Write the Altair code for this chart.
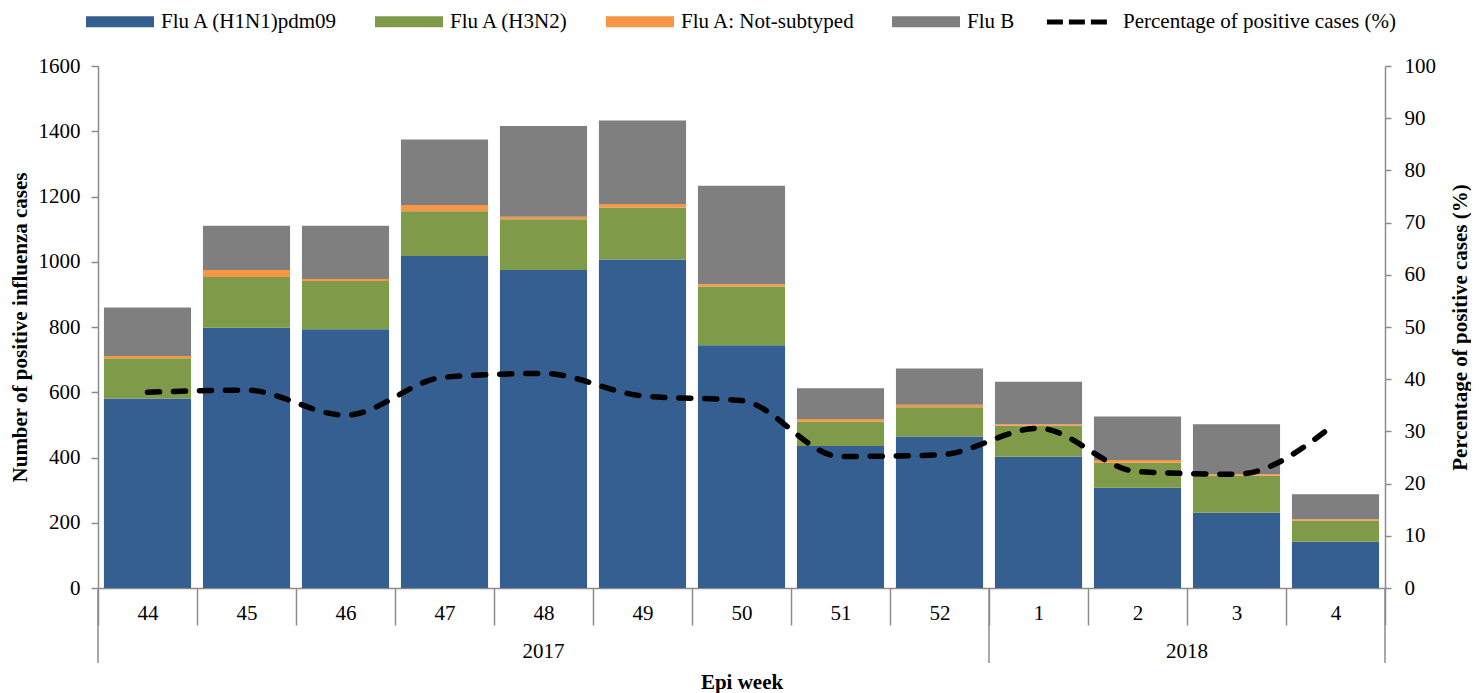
import altair as alt
import pandas as pd

weeks = ["44", "45", "46", "47", "48", "49", "50", "51", "52", "1", "2", "3", "4"]
series = ["Flu A (H1N1)pdm09", "Flu A (H3N2)", "Flu A: Not-subtyped", "Flu B"]
colors = ["#365F91", "#7F9A48", "#F79646", "#7F7F7F"]

h1n1 = [581, 798, 793, 1018, 975, 1007, 744, 435, 464, 402, 307, 231, 142]
h3n2 = [123, 155, 148, 137, 155, 159, 180, 75, 90, 95, 77, 113, 64]
not_subtyped = [7, 22, 6, 19, 8, 11, 7, 8, 8, 5, 8, 5, 5]
flu_b = [149, 135, 163, 201, 278, 256, 302, 94, 111, 130, 134, 153, 76]
pct_positive = [37.5, 37.9, 33.1, 40.4, 41.1, 36.8, 35.9, 25.2, 25.5, 30.6, 22.3, 21.8, 31.5]

year_labels = ["2017", "2018"]
year_label_week = ["48", "3"]       # band where each year label sits
year_label_bandpos = [0.5, 0.0]
year_start_weeks = ["44", "1"]
year_end_weeks = ["4"]

line_name = "Percentage of positive cases (%)"
FONT = "Liberation Serif"
GREY = "#8C8C8C"
FS = 21

rows = []
for vals, name, o in zip([h1n1, h3n2, not_subtyped, flu_b], series, range(4)):
    for w, v in zip(weeks, vals):
        rows.append({"week": w, "type": name, "value": v, "ord": o})
bars_df = pd.DataFrame(rows)
line_df = pd.DataFrame({"week": weeks, "pct": pct_positive, "s": [line_name] * len(weeks)})

xscale = alt.Scale(domain=weeks, paddingInner=0, paddingOuter=0)
xaxis = alt.Axis(
    title="Epi week", titleFont=FONT, titleFontSize=21, titleFontWeight="bold",
    titleY=100, titleBaseline="alphabetic",
    labelAngle=0, labelFont=FONT, labelFontSize=FS, labelColor="black",
    tickBand="extent", tickSize=37, tickColor=GREY, tickWidth=1.5,
    labelPadding=-23, domainColor=GREY, domainWidth=1.5,
)

bars = alt.Chart(bars_df).mark_bar(width=alt.RelativeBandSize(0.88)).encode(
    x=alt.X("week:N", sort=weeks, scale=xscale, axis=xaxis),
    y=alt.Y("value:Q", stack="zero",
            scale=alt.Scale(domain=[0, 1600], nice=False),
            axis=alt.Axis(values=list(range(0, 1601, 200)), format="d",
                          title="Number of positive influenza  cases",
                          titleFont=FONT, titleFontSize=21, titleFontWeight="bold",
                          titleX=-78, titleY=261, titleBaseline="middle", titleAngle=270,
                          labelFont=FONT, labelFontSize=FS, labelColor="black",
                          tickSize=7, tickColor=GREY, tickWidth=1.5, labelPadding=11,
                          domainColor=GREY, domainWidth=1.5, grid=False)),
    color=alt.Color("type:N", scale=alt.Scale(domain=series, range=colors),
                    legend=alt.Legend(orient="none", legendX=11.5, legendY=-55,
                                      direction="horizontal", title=None,
                                      symbolType="M-4,-0.64H4V0.64H-4Z", symbolSize=289,
                                      symbolStrokeWidth=0, symbolOpacity=1,
                                      labelFont=FONT, labelFontSize=FS, labelColor="black",
                                      labelOffset=30.5, columnPadding=36, labelLimit=400)),
    order=alt.Order("ord:Q", sort="ascending"),
)

line = alt.Chart(line_df).mark_line(
    color="black", strokeWidth=5.5, strokeDash=[12, 14], strokeCap="round",
    interpolate="monotone"
).encode(
    x=alt.X("week:N", sort=weeks, scale=xscale, axis=xaxis),
    y=alt.Y("pct:Q", scale=alt.Scale(domain=[0, 100], nice=False),
            axis=alt.Axis(orient="right", values=list(range(0, 101, 10)),
                          title=line_name,
                          titleFont=FONT, titleFontSize=21, titleFontWeight="bold",
                          titleX=75, titleY=261, titleBaseline="middle", titleAngle=270,
                          labelFont=FONT, labelFontSize=FS, labelColor="black",
                          tickSize=6, tickColor=GREY, tickWidth=1.5, labelPadding=13,
                          domainColor=GREY, domainWidth=1.5, grid=False)),
    color=alt.Color("s:N", scale=alt.Scale(domain=[line_name], range=["black"]),
                    legend=alt.Legend(orient="none", legendX=968.5, legendY=-55, title=None,
                                      symbolType="M-3.6,0H3.6", symbolSize=289,
                                      symbolStrokeWidth=5, symbolDash=[16, 6],
                                      symbolStrokeColor="black", symbolFillColor="transparent",
                                      labelFont=FONT, labelFontSize=FS, labelColor="black",
                                      labelOffset=34.5, labelLimit=400)),
)

start_df = pd.DataFrame({"week": year_start_weeks})
end_df = pd.DataFrame({"week": year_end_weeks})
rule_start = alt.Chart(start_df).mark_rule(color=GREY, strokeWidth=1.5, clip=False).encode(
    x=alt.X("week:N", sort=weeks, scale=xscale, axis=xaxis, bandPosition=0),
    y=alt.value(522), y2=alt.value(597),
)
rule_end = alt.Chart(end_df).mark_rule(color=GREY, strokeWidth=1.5, clip=False).encode(
    x=alt.X("week:N", sort=weeks, scale=xscale, axis=xaxis, bandPosition=1),
    y=alt.value(522), y2=alt.value(597),
)

text_layers = []
for lab, wk, bp in zip(year_labels, year_label_week, year_label_bandpos):
    tdf = pd.DataFrame({"week": [wk], "label": [lab]})
    text_layers.append(
        alt.Chart(tdf).mark_text(font=FONT, fontSize=FS, color="black",
                                 baseline="alphabetic", align="center", clip=False).encode(
            x=alt.X("week:N", sort=weeks, scale=xscale, axis=xaxis, bandPosition=bp),
            y=alt.value(592),
            text="label:N",
        )
    )

bar_side = alt.layer(bars, rule_start, rule_end, *text_layers)
chart = alt.layer(bar_side, line).resolve_scale(
    y="independent", color="independent"
).resolve_legend(color="independent").properties(
    width=1287, height=522,
    autosize=alt.AutoSizeParams(type="none"),
    padding={"left": 90, "top": 58, "right": 86, "bottom": 105},
).configure_view(stroke=None)

chart.save("out.html", embed_options={"renderer": "svg", "actions": False})
